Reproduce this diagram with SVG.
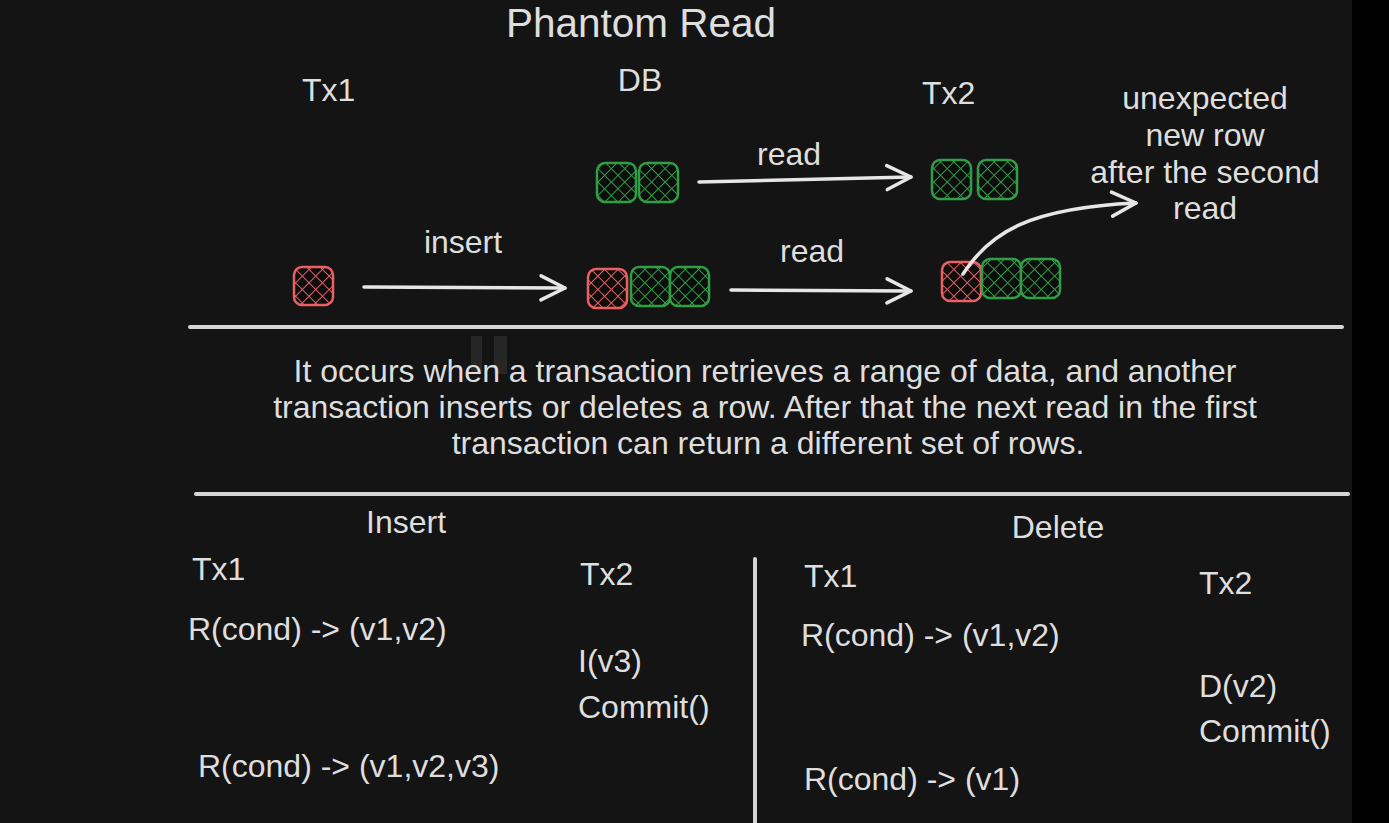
<svg xmlns="http://www.w3.org/2000/svg" width="1389" height="823" viewBox="0 0 1389 823">
<style>
text{font-family:"Liberation Sans",Arial,sans-serif;fill:#dedede;font-size:32px}
.c{text-anchor:middle}
.title{font-size:40.5px}
.g{fill:url(#hatchG);stroke:#2f9e44;stroke-width:2.5}
.r{fill:url(#hatchR);stroke:#ec5f62;stroke-width:2.5}
.line{stroke:#d6d6d6;stroke-width:4;stroke-linecap:round;fill:none}
.arrow{stroke:#e6e6e6;stroke-width:3.5;stroke-linecap:round;fill:none;marker-end:url(#head)}
</style>
<defs>
<pattern id="hatchG" patternUnits="userSpaceOnUse" width="9.5" height="9.5" patternTransform="rotate(45)">
<rect width="9.5" height="9.5" fill="#0d0d0d"/>
<path d="M0,0V9.5M0,0H9.5" stroke="#2f9e44" stroke-width="2"/>
</pattern>
<pattern id="hatchR" patternUnits="userSpaceOnUse" width="9.5" height="9.5" patternTransform="rotate(45)">
<rect width="9.5" height="9.5" fill="#0d0d0d"/>
<path d="M0,0V9.5M0,0H9.5" stroke="#ec5f62" stroke-width="2"/>
</pattern>
<marker id="head" markerUnits="userSpaceOnUse" markerWidth="34" markerHeight="34" refX="28" refY="13" orient="auto" viewBox="0 0 34 26">
<path d="M4,1 L28,13 L4,25" fill="none" stroke="#e6e6e6" stroke-width="3.5" stroke-linecap="round" stroke-linejoin="round"/>
</marker>
</defs>
<rect x="0" y="0" width="1389" height="823" fill="#000"/>
<rect x="0" y="0" width="1352" height="823" fill="#141414"/>
<g id="pause" fill="#262626">
<rect x="471" y="336" width="11" height="38"/>
<rect x="494" y="336" width="13" height="38"/>
</g>
<g id="title"><text class="c title" x="641" y="37">Phantom Read</text></g>
<g id="headers">
<text x="302" y="101">Tx1</text>
<text class="c" x="640" y="91">DB</text>
<text x="922" y="104">Tx2</text>
</g>
<g id="note">
<text class="c" x="1205" y="109">unexpected</text>
<text class="c" x="1205" y="146">new row</text>
<text class="c" x="1205" y="183">after the second</text>
<text class="c" x="1205" y="219">read</text>
</g>
<g id="db-top">
<rect class="g" x="597" y="163" width="39" height="39" rx="8"/>
<rect class="g" x="639" y="163" width="39" height="39" rx="8"/>
</g>
<g id="tx2-top">
<rect class="g" x="932" y="160" width="39" height="39" rx="8"/>
<rect class="g" x="978" y="160" width="39" height="39" rx="8"/>
</g>
<g id="tx1-row">
<rect class="r" x="294" y="267" width="39" height="38" rx="8"/>
</g>
<g id="db-bottom">
<rect class="r" x="588" y="269" width="39" height="39" rx="8"/>
<rect class="g" x="631" y="267" width="39" height="39" rx="8"/>
<rect class="g" x="670" y="267" width="39" height="39" rx="8"/>
</g>
<g id="tx2-bottom">
<rect class="r" x="942" y="262" width="39" height="39" rx="8"/>
<rect class="g" x="982" y="259" width="39" height="39" rx="8"/>
<rect class="g" x="1021" y="259" width="39" height="39" rx="8"/>
</g>
<g id="connectors">
<path class="arrow" d="M699,182 L911,177"/>
<text class="c" x="789" y="165">read</text>
<path class="arrow" d="M364,287 L565,288"/>
<text class="c" x="463" y="253">insert</text>
<path class="arrow" d="M731,290 L911,291"/>
<text class="c" x="812" y="262">read</text>
<path class="arrow" d="M963,274 C990,232 1030,208 1136,203"/>
</g>
<g id="dividers">
<line class="line" x1="190" y1="327" x2="1342" y2="327"/>
<line class="line" x1="196" y1="494" x2="1348" y2="494"/>
<line class="line" x1="755" y1="559" x2="755" y2="823"/>
</g>
<g id="description">
<text class="c" x="765" y="382">It occurs when a transaction retrieves a range of data, and another</text>
<text class="c" x="765" y="418">transaction inserts or deletes a row. After that the next read in the first</text>
<text class="c" x="768" y="454">transaction can return a different set of rows.</text>
</g>
<g id="insert-table">
<text class="c" x="406" y="533">Insert</text>
<text x="192" y="580">Tx1</text>
<text x="580" y="585">Tx2</text>
<text x="188" y="640">R(cond) -&gt; (v1,v2)</text>
<text x="578" y="672">I(v3)</text>
<text x="578" y="718">Commit()</text>
<text x="198" y="777">R(cond) -&gt; (v1,v2,v3)</text>
</g>
<g id="delete-table">
<text class="c" x="1058" y="538">Delete</text>
<text x="804" y="587">Tx1</text>
<text x="1199" y="594">Tx2</text>
<text x="801" y="646">R(cond) -&gt; (v1,v2)</text>
<text x="1199" y="697">D(v2)</text>
<text x="1199" y="742">Commit()</text>
<text x="804" y="790">R(cond) -&gt; (v1)</text>
</g>
</svg>
